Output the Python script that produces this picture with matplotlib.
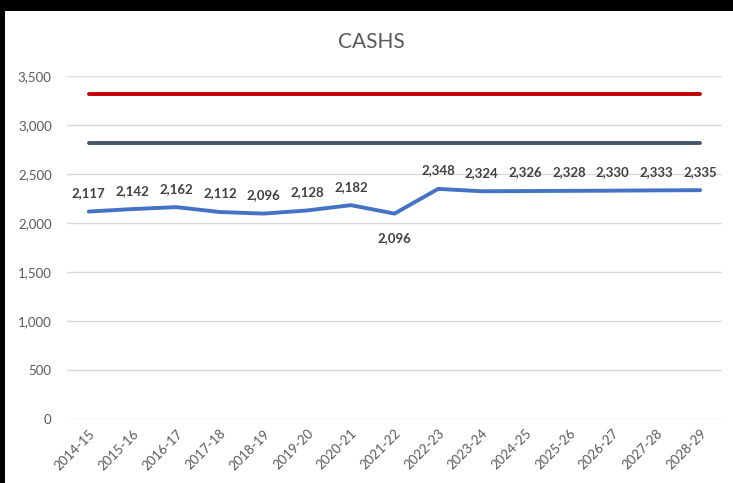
import matplotlib
matplotlib.use("Agg")
import matplotlib.pyplot as plt
from matplotlib.ticker import FuncFormatter, MultipleLocator

years = ["2014-15", "2015-16", "2016-17", "2017-18", "2018-19", "2019-20", "2020-21",
         "2021-22", "2022-23", "2023-24", "2024-25", "2025-26", "2026-27", "2027-28", "2028-29"]
cashs = [2117, 2142, 2162, 2112, 2096, 2128, 2182, 2096, 2348, 2324, 2326, 2328, 2330, 2333, 2335]
red_line = [3320] * len(years)
dark_line = [2820] * len(years)

plt.rcParams['font.family'] = ['Lato', 'DejaVu Sans']

W, H = 733, 483
fig = plt.figure(figsize=(W / 100, H / 100), dpi=100, facecolor='black')
bg = fig.add_axes([5 / W, 0, 1 - 5 / W, 1 - 11 / H])
bg.set_facecolor('white')
bg.set_xticks([])
bg.set_yticks([])
for s in bg.spines.values():
    s.set_visible(False)

ax = fig.add_axes([67 / W, 1 - 419 / H, (722 - 67) / W, (419 - 76) / H])
ax.set_facecolor('none')
x = list(range(len(years)))

ax.plot(x, red_line, color='#C00000', lw=2.8, solid_capstyle='round')
ax.plot(x, dark_line, color='#44546A', lw=2.8, solid_capstyle='round')
ax.plot(x, cashs, color='#4472C4', lw=2.8, solid_capstyle='round')

for i, v in enumerate(cashs):
    if years[i] == "2021-22":
        ax.annotate(f"{v:,}", (i, v), xytext=(0, -13), textcoords='offset points',
                    ha='center', va='top', fontsize=9.5, fontweight='bold', color='#404040')
    else:
        ax.annotate(f"{v:,}", (i, v), xytext=(0, 9), textcoords='offset points',
                    ha='center', va='bottom', fontsize=9.5, fontweight='bold', color='#404040')

ax.set_xlim(-0.5, len(years) - 0.5)
ax.set_ylim(0, 3500)
ax.yaxis.set_major_locator(MultipleLocator(500))
ax.yaxis.set_major_formatter(FuncFormatter(lambda v, p: f"{int(v):,}"))
ax.grid(axis='y', color='#D9D9D9', lw=1)
ax.set_axisbelow(True)
for s in ax.spines.values():
    s.set_visible(False)
ax.tick_params(axis='both', length=0, colors='#595959', labelsize=9.5)
ax.tick_params(axis='y', pad=11)
ax.set_xticks(x)
ax.set_xticklabels(years, rotation=45, ha='right', rotation_mode='anchor')
ax.tick_params(axis='x', pad=6)

fig.text(371 / W, 1 - 42 / H, "CASHS", ha='center', va='center',
         fontsize=15, color='#595959')

fig.savefig("out.png", dpi=100, facecolor=fig.get_facecolor())
